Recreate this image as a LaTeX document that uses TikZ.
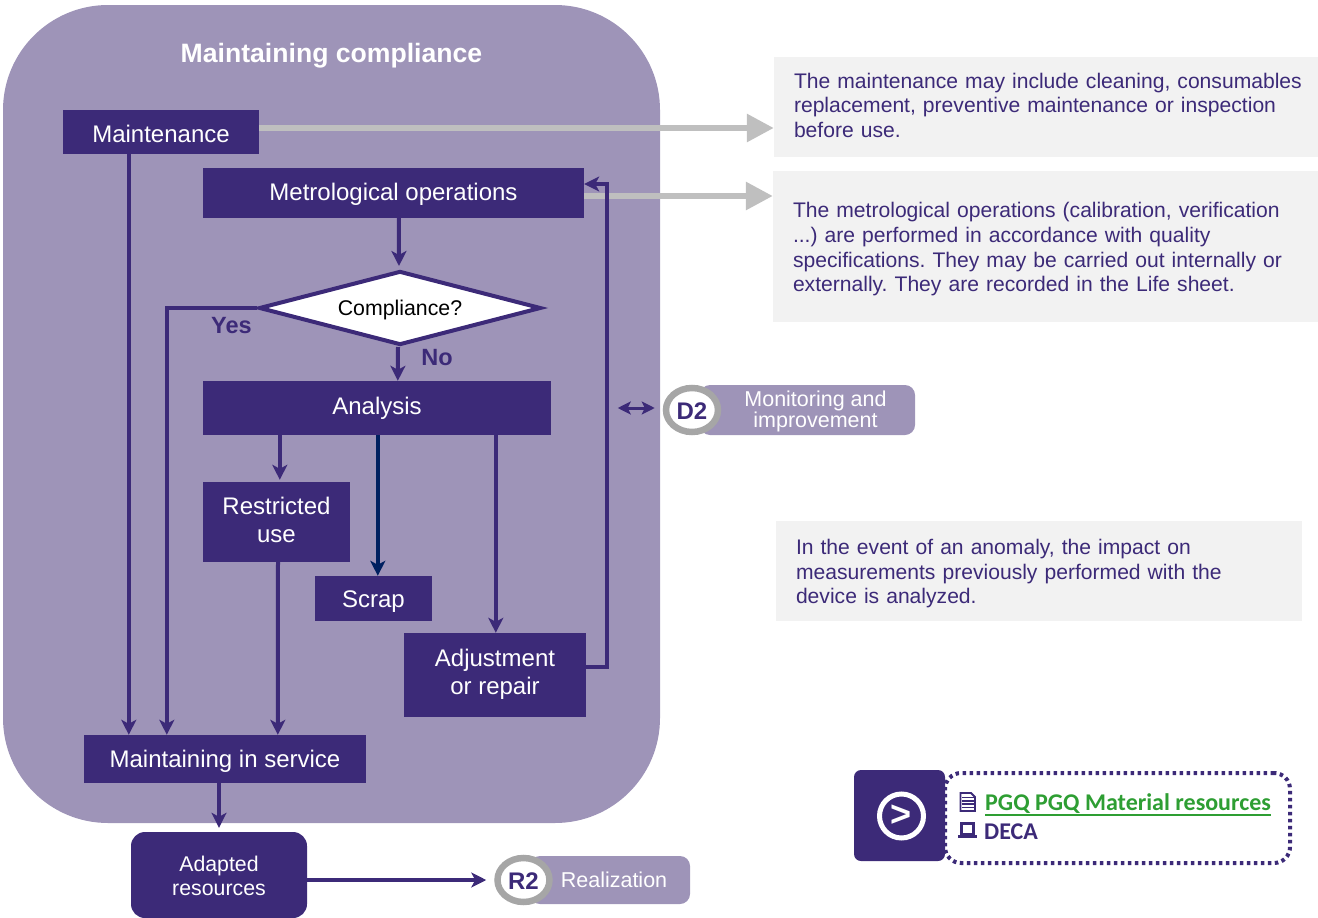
\documentclass[tikz,border=0pt]{standalone}
\usepackage{fontspec}
\setmainfont{Liberation Sans}
\newfontfamily\calib{Carlito}
\usetikzlibrary{arrows.meta,shapes.geometric,calc}
\definecolor{dk}{HTML}{3C2A78}
\definecolor{md}{HTML}{9E94B8}
\definecolor{gy}{HTML}{BFBFBF}
\definecolor{nt}{HTML}{F2F2F2}
\definecolor{rg}{HTML}{A6A6A6}
\definecolor{gn}{HTML}{2E9E33}
\definecolor{nv}{HTML}{002060}
\tikzset{
  flowbox/.style={fill=dk,text=white,inner sep=0pt,align=center,font=\fontsize{24}{28}\selectfont},
  flow/.style={draw=dk,line width=4pt,-{Stealth[length=15pt,width=15pt,inset=4pt]}},
  greyarrow/.style={draw=gy,line width=6pt,-{Triangle[length=27pt,width=27pt]}},
  notebox/.style={fill=nt,text=dk,inner xsep=20pt,inner ysep=0pt,align=left,anchor=center,font=\fontsize{21.1}{24.6}\selectfont},
  pill/.style={fill=md,text=white,rounded corners=10pt,inner sep=0pt,align=center,font=\fontsize{21.5}{21}\selectfont},
  badge/.style={ellipse,draw=rg,fill=white,line width=6.5pt,text=dk,inner sep=0pt,minimum width=52pt,minimum height=44pt,text height=18pt,text depth=0pt,font=\fontsize{24}{28}\selectfont\bfseries},
  lab/.style={text=dk,inner sep=0pt,font=\fontsize{23.5}{26}\selectfont\bfseries},
}
\begin{document}
\begin{tikzpicture}[x=1pt,y=-1pt]
\frenchspacing
\useasboundingbox (0,0) rectangle (1318,918);
\node[fill=md,rounded corners=105pt,minimum width=657pt,minimum height=818pt,inner sep=0pt] (panel) at (331.5,414) {};
\node[text=white,inner sep=0pt,font=\fontsize{26.6}{30}\selectfont\bfseries] (title) at (331.5,56) {Maintaining compliance};

\node[flowbox,minimum width=196pt,minimum height=44pt,text height=21pt,text depth=0pt] (maint) at (161,132) {Maintenance};
\node[flowbox,minimum width=381pt,minimum height=50pt,text height=14pt,text depth=0pt] (metro) at (393.5,193) {Metrological operations};
\node[diamond,draw=dk,fill=white,line width=4pt,aspect=3.8,minimum width=282pt,minimum height=74pt,inner sep=0pt,text height=14.6pt,text depth=0pt,font=\fontsize{21.3}{25}\selectfont] (comp) at (400,308) {Compliance?};
\node[flowbox,minimum width=348pt,minimum height=54pt] (ana) at (377,408) {Analysis};
\node[flowbox,minimum width=147pt,minimum height=80pt,text depth=4pt] (restr) at (276.5,522) {Restricted\\use};
\node[flowbox,minimum width=117pt,minimum height=45pt,text height=18pt,text depth=0pt] (scrap) at (373.5,598.5) {Scrap};
\node[flowbox,minimum width=182pt,minimum height=84pt,text depth=7pt] (adj) at (495,675) {Adjustment\\or repair};
\node[flowbox,minimum width=282pt,minimum height=48pt,text height=16pt,text depth=0pt] (serv) at (225,759) {Maintaining in service};
\node[flowbox,rounded corners=14pt,minimum width=176pt,minimum height=86pt,text height=41.5pt,font=\fontsize{21.3}{24.5}\selectfont] (adapt) at (219,875) {Adapted\\resources};

\node[notebox,text width=504pt,minimum height=100pt,text depth=53.2pt] (n1) at (1046,107) {\mbox{The maintenance may include cleaning, consumables}\\replacement, preventive maintenance or inspection\\before use.};
\node[notebox,text width=505pt,minimum height=151pt,text height=21pt] (n2) at (1045.5,246.5) {The metrological operations (calibration, verification\\...) are performed in accordance with quality\\specifications. They may be carried out internally or\\externally. They are recorded in the Life sheet.};
\node[notebox,text width=486pt,minimum height=100pt,text height=21pt] (n3) at (1039,571) {In the event of an anomaly, the impact on\\measurements previously performed with the\\device is analyzed.};

\node[pill,minimum width=215pt,minimum height=50pt,text depth=2pt] (d2t) at (807.5,410) {\hspace*{16pt}Monitoring and\\\hspace*{16pt}improvement};
\node[badge] (d2) at (692,410) {D2};
\node[pill,minimum width=160pt,minimum height=48pt] (r2t) at (610,880) {\hspace*{8pt}Realization};
\node[badge] (r2) at (523.5,880) {R2};

% grey arrows
\draw[greyarrow] ([yshift=4pt]maint.east) -- ([yshift=4pt]maint.east -| n1.west);
\draw[greyarrow] ([yshift=-3pt]metro.east) -- ([yshift=-3pt]metro.east -| n2.west);

% flow
\draw[flow] ([xshift=66pt]maint.south west) -- ([xshift=45pt]serv.north west);
\draw[flow] (comp.west) -| ([xshift=83pt]serv.north west);
\draw[flow] ([xshift=196pt]metro.south west) -- ([xshift=-1pt,yshift=3pt]comp.north);
\draw[flow] ([xshift=-2pt]comp.south) -- ([xshift=195pt]ana.north west);
\draw[flow] ([xshift=77pt]ana.south west) -- ([xshift=77pt,yshift=2pt]restr.north west -| ana.south west);
\draw[flow] ([xshift=1.5pt]restr.south) -- ([xshift=194pt]serv.north west);
\draw[flow,draw=nv] ([xshift=175pt]ana.south west) -- ([xshift=63pt]scrap.north west);
\draw[flow] ([xshift=293pt]ana.south west) -- ([xshift=92pt]adj.north west);
\draw[flow] ([yshift=8pt]adj.east) -| (607,184) -- ([yshift=9pt]metro.east);
\draw[flow] ([xshift=-6pt]serv.south) -- ([xshift=-6pt,yshift=4pt]serv.south |- adapt.north);
\draw[flow] (adapt.east |- r2.west) -- ([xshift=-8pt]r2.west);
\draw[draw=dk,line width=3pt,{Stealth[length=13pt,width=13pt,inset=3pt]}-{Stealth[length=13pt,width=13pt,inset=3pt]}] ([xshift=-45pt,yshift=2pt]d2.west) -- ([xshift=-8pt,yshift=2pt]d2.west);

\node[lab] (yes) at (231.5,326) {Yes};
\node[lab] (no) at (437,358) {No};

% link box
\node[draw=dk,line width=4pt,dash pattern=on 3.5pt off 3.5pt,rounded corners=16pt,minimum width=345pt,minimum height=90pt,inner sep=0pt] (lnk) at (1117.5,818) {};
\node[fill=dk,rounded corners=7pt,minimum width=91pt,minimum height=91pt,inner sep=0pt] (go) at (899.5,815.5) {};
\node[circle,draw=white,line width=5pt,minimum size=44pt,inner sep=0pt,text=white,font=\fontsize{36}{36}\selectfont\bfseries] (goc) at (901.5,816) {>};
\node[anchor=west,inner sep=0pt,text=gn,font=\fontsize{24}{28}\calib\bfseries] (pgq) at (985,803.5) {PGQ PGQ Material resources};
\draw[gn,line width=2.2pt] ([yshift=-1pt]pgq.south west) -- ([yshift=-1pt]pgq.south east);
\node[anchor=west,inner sep=0pt,text=dk,font=\fontsize{24}{28}\calib\bfseries] (deca) at (984,832) {DECA};

% document icon
\draw[dk,fill=white,line width=1.8pt] (960.5,793) -- (971,793) -- (975,797) -- (975,811) -- (960.5,811) -- cycle;
\foreach \yy in {797.5,801,804,807.5} \draw[dk,line width=1.8pt] (962,\yy) -- (973.5,\yy);
% laptop icon
\draw[dk,line width=3pt,fill=white] (961.5,823) rectangle (973.5,834);
\fill[dk] (958,834.5) -- (977,834.5) -- (977,838) -- (958,838) -- cycle;
\end{tikzpicture}
\end{document}
